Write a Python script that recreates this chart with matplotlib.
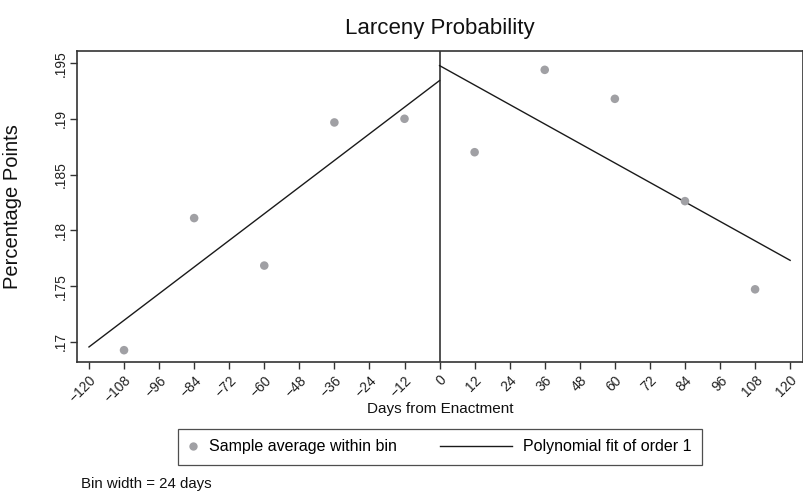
import matplotlib
matplotlib.use("Agg")
import matplotlib.pyplot as plt
from matplotlib.lines import Line2D
from matplotlib.legend_handler import HandlerLine2D

plt.rcParams['font.family'] = ['Liberation Sans', 'DejaVu Sans']

bin_x = [-108, -84, -60, -36, -12, 12, 36, 60, 84, 108]
bin_y = [0.16926, 0.18111, 0.17685, 0.18969, 0.19002,
         0.18702, 0.19441, 0.19181, 0.18263, 0.17472]
fit_left_x = [-120, 0]
fit_left_y = [0.16955, 0.19345]
fit_right_x = [0, 120]
fit_right_y = [0.19479, 0.17732]
xticks = list(range(-120, 121, 12))
yticks = [0.17, 0.175, 0.18, 0.185, 0.19, 0.195]
ytick_labels = ['.17', '.175', '.18', '.185', '.19', '.195']

DOT = '#a0a0a4'
LINE = '#1a1a1a'

fig = plt.figure(figsize=(8.04, 4.93), dpi=100)
ax = fig.add_axes([77/804, 131/493, 726/804, 311/493])

ax.scatter(bin_x, bin_y, s=38, color=DOT, edgecolor='none', zorder=3)
ax.plot(fit_left_x, fit_left_y, color=LINE, lw=1.0, zorder=2)
ax.plot(fit_right_x, fit_right_y, color=LINE, lw=1.0, zorder=2)
ax.axvline(0, color='#333333', lw=1.2, zorder=1)

ax.set_xlim(-124.1, 124.4)
ax.set_ylim(0.1682, 0.1961)
ax.set_xticks(xticks)
ax.set_xticklabels([str(t).replace('-', '\u2212') for t in xticks],
                   rotation=45, ha='right', rotation_mode='anchor', fontsize=10,
                   color='#222222')
ax.set_yticks(yticks)
ax.set_yticklabels(ytick_labels, rotation=90, va='center', fontsize=10, color='#222222')
ax.tick_params(axis='both', direction='out', length=5, width=1.0, color='#333333')
ax.tick_params(axis='x', pad=3)
ax.tick_params(axis='y', pad=2)
for s in ax.spines.values():
    s.set_color('#333333')
    s.set_linewidth(1.2)

ax.set_title('Larceny Probability', fontsize=16, pad=12, color='#111111')
ax.set_ylabel('Percentage Points', fontsize=14.5, color='#111111')
ax.yaxis.set_label_coords((22 - 77) / 726, 0.5)
fig.text(440/804, 1 - 409/493, 'Days from Enactment', ha='center', va='center',
         fontsize=11, color='#111111')


class NarrowMarkerHandler(HandlerLine2D):
    def legend_artist(self, legend, orig_handle, fontsize, handlebox):
        handlebox.width = 0.55 * fontsize
        return super().legend_artist(legend, orig_handle, fontsize, handlebox)


dot_handle = Line2D([], [], marker='o', linestyle='none', markerfacecolor=DOT,
                    markeredgecolor='none', markersize=6)
line_handle = Line2D([], [], color=LINE, lw=1.0)
leg = fig.legend([dot_handle, line_handle],
                 ['Sample average within bin', 'Polynomial fit of order 1'],
                 loc='center', bbox_to_anchor=(440/804, 1 - 447/493), ncol=2,
                 fontsize=11.5, frameon=True, fancybox=False, edgecolor='#222222',
                 handlelength=4.5, columnspacing=2.7, handletextpad=0.72,
                 borderpad=0.68, numpoints=1,
                 handler_map={dot_handle: NarrowMarkerHandler(numpoints=1)})
leg.get_frame().set_linewidth(0.9)

fig.text(81/804, 1 - 484/493, 'Bin width = 24 days', ha='left', va='center',
         fontsize=10.8, color='#111111')

fig.savefig('out.png', dpi=100, facecolor='white')
